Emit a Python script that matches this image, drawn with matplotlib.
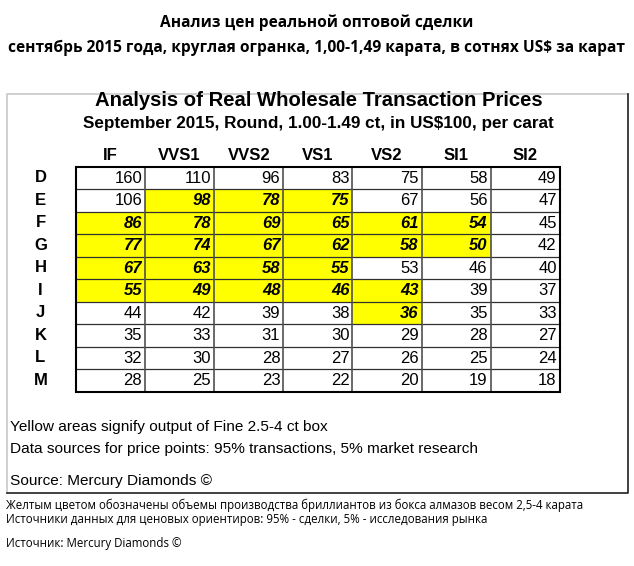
import matplotlib
matplotlib.use("Agg")
import matplotlib.pyplot as plt
from matplotlib.patches import Rectangle

# --- data -------------------------------------------------------------
clarities = ["IF", "VVS1", "VVS2", "VS1", "VS2", "SI1", "SI2"]
colors_grade = ["D", "E", "F", "G", "H", "I", "J", "K", "L", "M"]
prices = [
    [160, 110, 96, 83, 75, 58, 49],
    [106, 98, 78, 75, 67, 56, 47],
    [86, 78, 69, 65, 61, 54, 45],
    [77, 74, 67, 62, 58, 50, 42],
    [67, 63, 58, 55, 53, 46, 40],
    [55, 49, 48, 46, 43, 39, 37],
    [44, 42, 39, 38, 36, 35, 33],
    [35, 33, 31, 30, 29, 28, 27],
    [32, 30, 28, 27, 26, 25, 24],
    [28, 25, 23, 22, 20, 19, 18],
]
# cells in the "Fine 2.5-4 ct box" (row, col)
yellow_cells = [
    (1, 1), (1, 2), (1, 3),
    (2, 0), (2, 1), (2, 2), (2, 3), (2, 4), (2, 5),
    (3, 0), (3, 1), (3, 2), (3, 3), (3, 4), (3, 5),
    (4, 0), (4, 1), (4, 2), (4, 3),
    (5, 0), (5, 1), (5, 2), (5, 3), (5, 4),
    (6, 4),
]

title_ru = ["Анализ цен реальной оптовой сделки",
            "сентябрь 2015 года, круглая огранка, 1,00-1,49 карата, в сотнях US$ за карат"]
title_en = "Analysis of Real Wholesale Transaction Prices"
subtitle_en = "September 2015, Round, 1.00-1.49 ct, in US$100, per carat"
notes_en = ["Yellow areas signify output of Fine 2.5-4 ct box",
            "Data sources for price points: 95% transactions, 5% market research"]
source_en = "Source: Mercury Diamonds ©"
notes_ru = ["Желтым цветом обозначены объемы производства бриллиантов из бокса алмазов весом 2,5-4 карата",
            "Источники данных для ценовых ориентиров: 95% - сделки, 5% - исследования рынка"]
source_ru = "Источник: Mercury Diamonds ©"

# --- layout (pixel coordinates) ----------------------------------------
W, H = 634, 566
x0, y0 = 76, 166.7
cw, rh = 69.1, 22.5

fig = plt.figure(figsize=(W / 100, H / 100), dpi=100)
ax = fig.add_axes([0, 0, 1, 1])
ax.set_xlim(0, W)
ax.set_ylim(H, 0)
ax.axis("off")

EN = ["Liberation Sans", "DejaVu Sans"]
RU = ["Open Sans", "DejaVu Sans"]

# russian header
ax.text(317, 23, title_ru[0], ha="center", va="center", fontsize=11.2,
        fontweight="bold", family=RU)
ax.text(317, 48, title_ru[1], ha="center", va="center", fontsize=11.2,
        fontweight="bold", family=RU)

# outer frame: light top/left, dark right/bottom
ax.plot([6.7, 6.7, 628], [493, 94, 94], color="#c8c8c8", lw=1.2)
ax.plot([628, 628, 6.7], [94, 493, 493], color="#202020", lw=1.2)

ax.text(318.5, 101, title_en, ha="center", va="center", fontsize=14.6,
        fontweight="bold", family=EN)
ax.text(318.5, 123.5, subtitle_en, ha="center", va="center", fontsize=12.3,
        fontweight="bold", family=EN)

# column headers
for j, name in enumerate(clarities):
    ax.text(x0 + (j + 0.5) * cw, 156, name, ha="center", va="center",
            fontsize=12, fontweight="bold", family=EN)

yellow = set(yellow_cells)
for i, g in enumerate(colors_grade):
    cy = y0 + (i + 0.5) * rh
    ax.text(40.5, cy, g, ha="center", va="center", fontsize=12,
            fontweight="bold", family=EN)
    for j, v in enumerate(prices[i]):
        is_y = (i, j) in yellow
        ax.add_patch(Rectangle((x0 + j * cw, y0 + i * rh), cw, rh,
                               facecolor="#ffff00" if is_y else "white",
                               edgecolor="none", zorder=1))
        ax.text(x0 + (j + 1) * cw - 3, cy + 0.5, str(v), ha="right", va="center",
                fontsize=12, family=EN,
                fontweight="bold" if is_y else "normal",
                fontstyle="italic" if is_y else "normal", zorder=3)

# grid lines
nrows, ncols = len(colors_grade), len(clarities)
for i in range(1, nrows):
    ax.plot([x0, x0 + ncols * cw], [y0 + i * rh] * 2, color="#303030", lw=0.9, zorder=2)
for j in range(1, ncols):
    ax.plot([x0 + j * cw] * 2, [y0, y0 + nrows * rh], color="#505050", lw=1.2, zorder=2)
ax.add_patch(Rectangle((x0, y0), ncols * cw, nrows * rh, facecolor="none",
                       edgecolor="black", lw=1.5, zorder=4))

# english notes
ax.text(10, 427, notes_en[0], ha="left", va="center", fontsize=11.1, family=EN)
ax.text(10, 449, notes_en[1], ha="left", va="center", fontsize=11.1, family=EN)
ax.text(10, 481, source_en, ha="left", va="center", fontsize=11.1, family=EN)

# russian notes
ax.text(6, 505, notes_ru[0], ha="left", va="center", fontsize=8.3, family=RU)
ax.text(6, 520, notes_ru[1], ha="left", va="center", fontsize=8.3, family=RU)
ax.text(6, 544, source_ru, ha="left", va="center", fontsize=8.3, family=RU)

fig.savefig("out.png", dpi=100)
